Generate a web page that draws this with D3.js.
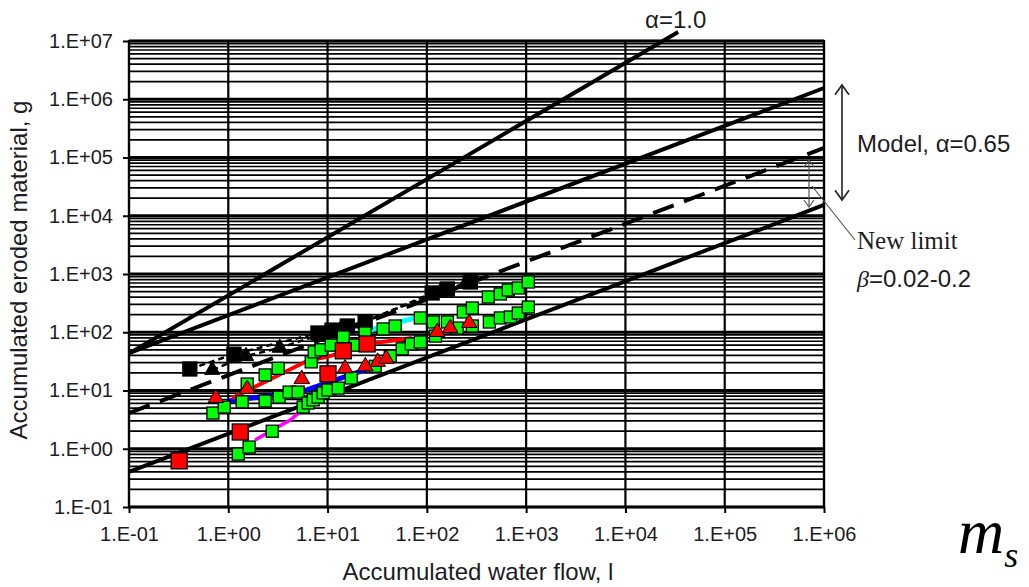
<!DOCTYPE html>
<html><head><meta charset="utf-8">
<script src="https://cdn.jsdelivr.net/npm/d3@7/dist/d3.min.js"></script>
<style>body{margin:0;background:#fff}svg{display:block}</style>
</head><body>
<svg id="c" width="1029" height="587"></svg>
<script>
// ---- tick values & labels ----
const xTicks = [1e-1, 1e0, 1e1, 1e2, 1e3, 1e4, 1e5, 1e6];
const xTickLabels = ["1.E-01","1.E+00","1.E+01","1.E+02","1.E+03","1.E+04","1.E+05","1.E+06"];
const yTicks = [1e-1, 1e0, 1e1, 1e2, 1e3, 1e4, 1e5, 1e6, 1e7];
const yTickLabels = ["1.E-01","1.E+00","1.E+01","1.E+02","1.E+03","1.E+04","1.E+05","1.E+06","1.E+07"];

// ---- model lines [x, y] ----
const lineAlpha1 = [[0.1, 43], [3.4e4, 1.43e7]];
const lineModelUpper = [[0.1, 44], [1e6, 1.56e6]];
const lineLimitDashed = [[0.1, 4.1], [1e6, 1.46e5]];
const lineModelLower = [[0.1, 0.40], [1e6, 1.53e4]];

// ---- measured series [x (l), y (g)] ----
const blackSquares = [[0.41,23.4],[1.14,42],[8.0,97],[11.1,109],[15.8,128],[23.9,150],[113,472],[161,553],[274,729]];
const blackTriangles = [[0.69,22.5],[1.51,39],[3.3,54],[9.5,97],[13.4,109],[136,491],[244,673]];
const redSquares = [[0.32,0.62],[1.32,1.94],[10.1,19.3],[14.4,48],[25,63]];
const redTriangles = [[0.75,7.4],[1.55,10.6],[5.5,15.7],[15,24],[24,26],[32,31],[39,35],[127,101],[172,118],[267,144]];
const greenUpper = [[1.55,12.9],[2.35,18.5],[3.18,24],[6.84,31],[7.33,46],[8.61,50],[10.9,60],[14.4,83],[19.0,60],[23.9,97],[36.3,114],[48,128],[86,176],[116,150],[161,150],[233,223],[287,261],[416,403],[550,454],[662,531],[834,575],[1052,729]];
const greenMid = [[0.70,4.1],[0.91,5.2],[1.38,6.4],[2.35,6.6],[3.25,7.7],[4.1,9.4],[5.06,9.4]];
const greenLower = [[1.26,0.81],[1.62,1.07],[2.77,2.0],[5.68,5.2],[6.37,6.1],[7.16,6.9],[8.04,7.7],[9.03,9.1],[10.1,10.2],[12.8,11.0],[17.3,16.4],[30.2,26],[42.8,39],[56.5,52],[69.7,63],[86,68],[122,86],[202,118],[287,128],[426,150],[550,176],[693,183],[834,214],[1052,271]];
const redLine = [[1.09,7.4],[6.2,32],[10.6,39],[25,63],[71,80]];
const blueLine = [[1.0,6.6],[5.3,9.4],[10.6,14],[30,26]];
const magentaLine = [[1.86,1.41],[4.2,3.1],[5.3,4.3]];
const cyanLine = [[21,97],[76,176]];

// ---- layout ----
const svg = d3.select("#c");
const x = d3.scaleLog().domain([1e-1, 1e6]).range([129, 824]);
const y = d3.scaleLog().domain([1e-1, 1e7]).range([507, 41]);
const line = d3.line().x(d => x(d[0])).y(d => y(d[1]));
const txt = "#1c1c24";
const sans = "Arial, 'Liberation Sans', sans-serif";

// grid
const g = svg.append("g");
const hVals = [];
for (let d = -1; d < 7; d++) for (let m = 1; m < 10; m++) hVals.push(m * Math.pow(10, d));
hVals.push(1e7);
g.selectAll("line.h").data(hVals).join("line")
  .attr("x1", 129).attr("x2", 824)
  .attr("y1", d => y(d)).attr("y2", d => y(d))
  .attr("stroke", "#000")
  .attr("stroke-width", d => Math.abs(Math.log10(d) - Math.round(Math.log10(d))) < 1e-9 ? 3 : 1.7);
g.selectAll("line.v").data(xTicks).join("line")
  .attr("x1", d => x(d)).attr("x2", d => x(d))
  .attr("y1", 41).attr("y2", 507)
  .attr("stroke", "#000").attr("stroke-width", 2.2);
g.append("rect").attr("x", 129).attr("y", 41).attr("width", 695).attr("height", 466)
  .attr("fill", "none").attr("stroke", "#000").attr("stroke-width", 2.2);

// axes
const xAxis = d3.axisBottom(x).tickValues(xTicks).tickFormat((d, i) => xTickLabels[i]).tickSize(6).tickPadding(10);
const yAxis = d3.axisLeft(y).tickValues(yTicks).tickFormat((d, i) => yTickLabels[i]).tickSize(6).tickPadding(10);
const gx = svg.append("g").attr("transform", "translate(0,507)").call(xAxis);
const gy = svg.append("g").attr("transform", "translate(129,0)").call(yAxis);
[gx, gy].forEach(a => {
  a.select(".domain").remove();
  a.selectAll(".tick line").attr("stroke", "#000").attr("stroke-width", 2);
  a.selectAll(".tick text").attr("fill", txt).style("font-family", sans).style("font-size", "20px");
});
gx.selectAll(".tick text").attr("dy", "0.9em");

// model lines
const modelLine = (data, dash) => svg.append("path").datum(data).attr("d", line)
  .attr("stroke", "#000").attr("stroke-width", 4).attr("fill", "none").attr("stroke-dasharray", dash);
modelLine(lineAlpha1, null);
modelLine(lineModelUpper, null);
modelLine(lineLimitDashed, "22,11");
modelLine(lineModelLower, null);

// coloured fit lines
const colLine = (data, c, w) => svg.append("path").datum(data).attr("d", line).attr("stroke", c).attr("stroke-width", w).attr("fill", "none");
colLine(cyanLine, "#00ffff", 5);
colLine(blueLine, "#0000ff", 5);
colLine(magentaLine, "#ff00ff", 3.5);
colLine(redLine, "#ff0000", 4);
svg.append("path").datum(blackSquares).attr("d", line).attr("stroke", "#000").attr("stroke-width", 2.5).attr("stroke-dasharray", "6,4").attr("fill", "none");
svg.append("path").datum(blackTriangles).attr("d", line).attr("stroke", "#000").attr("stroke-width", 2.5).attr("stroke-dasharray", "6,4").attr("fill", "none");

// markers
const squares = (data, fill, s) => svg.append("g").selectAll("rect").data(data).join("rect")
  .attr("x", d => x(d[0]) - s / 2).attr("y", d => y(d[1]) - s / 2).attr("width", s).attr("height", s)
  .attr("fill", fill).attr("stroke", "#000").attr("stroke-width", 1.3);
const tri = d3.symbol().type(d3.symbolTriangle);
const triangles = (data, fill, size) => svg.append("g").selectAll("path").data(data).join("path")
  .attr("d", tri.size(size)())
  .attr("transform", d => `translate(${x(d[0])},${y(d[1])})`)
  .attr("fill", fill).attr("stroke", "#000").attr("stroke-width", 1);

squares(blackSquares, "#000", 14);
triangles(blackTriangles, "#000", 100);
squares(greenMid, "#00ff00", 12);
squares(greenLower, "#00ff00", 12);
squares(greenUpper, "#00ff00", 12);
squares(redSquares, "#ff0000", 16);
triangles(redTriangles, "#ff0000", 105);

// axis titles
svg.append("text").attr("x", 478).attr("y", 580).attr("text-anchor", "middle")
  .style("font-family", sans).style("font-size", "24px").attr("fill", txt).text("Accumulated water flow, l");
svg.append("text").attr("transform", "translate(27,270) rotate(-90)").attr("text-anchor", "middle")
  .style("font-family", sans).style("font-size", "24px").attr("fill", txt).text("Accumulated eroded material, g");

// annotations
svg.append("text").attr("x", 645).attr("y", 28).style("font-family", sans).style("font-size", "24px").attr("fill", txt)
  .text("α=1.0");
svg.append("text").attr("x", 857).attr("y", 152).style("font-family", sans).style("font-size", "24px").attr("fill", txt)
  .text("Model, α=0.65");
svg.append("text").attr("x", 857).attr("y", 249).style("font-family", "'Liberation Serif', 'Times New Roman', serif").style("font-size", "25px").attr("fill", txt)
  .text("New limit");
const bt = svg.append("text").attr("x", 857).attr("y", 287).style("font-size", "24px").attr("fill", txt);
bt.append("tspan").style("font-family", "'Liberation Serif', serif").style("font-style", "italic").text("β");
bt.append("tspan").style("font-family", sans).text("=0.02-0.2");
const ms = svg.append("text").attr("x", 958).attr("y", 553).style("font-family", "'Liberation Serif', serif").style("font-style", "italic").attr("fill", "#000");
ms.append("tspan").style("font-size", "64px").text("m");
ms.append("tspan").style("font-size", "36px").attr("dy", 14).text("s");

// arrows
function arrow(xp, y1, y2, w, col, sw) {
  svg.append("line").attr("x1", xp).attr("x2", xp).attr("y1", y1).attr("y2", y2).attr("stroke", col).attr("stroke-width", sw);
  svg.append("path").attr("d", `M${xp - w},${y1 + w * 1.4}L${xp},${y1}L${xp + w},${y1 + w * 1.4}`).attr("stroke", col).attr("stroke-width", sw).attr("fill", "none");
  svg.append("path").attr("d", `M${xp - w},${y2 - w * 1.4}L${xp},${y2}L${xp + w},${y2 - w * 1.4}`).attr("stroke", col).attr("stroke-width", sw).attr("fill", "none");
}
arrow(842, 85, 200, 7, "#222", 1.6);
arrow(809, 160, 207, 5, "#555", 1.2);
svg.append("line").attr("x1", 812).attr("y1", 186).attr("x2", 855).attr("y2", 240).attr("stroke", "#555").attr("stroke-width", 1.2);
</script>
</body></html>
